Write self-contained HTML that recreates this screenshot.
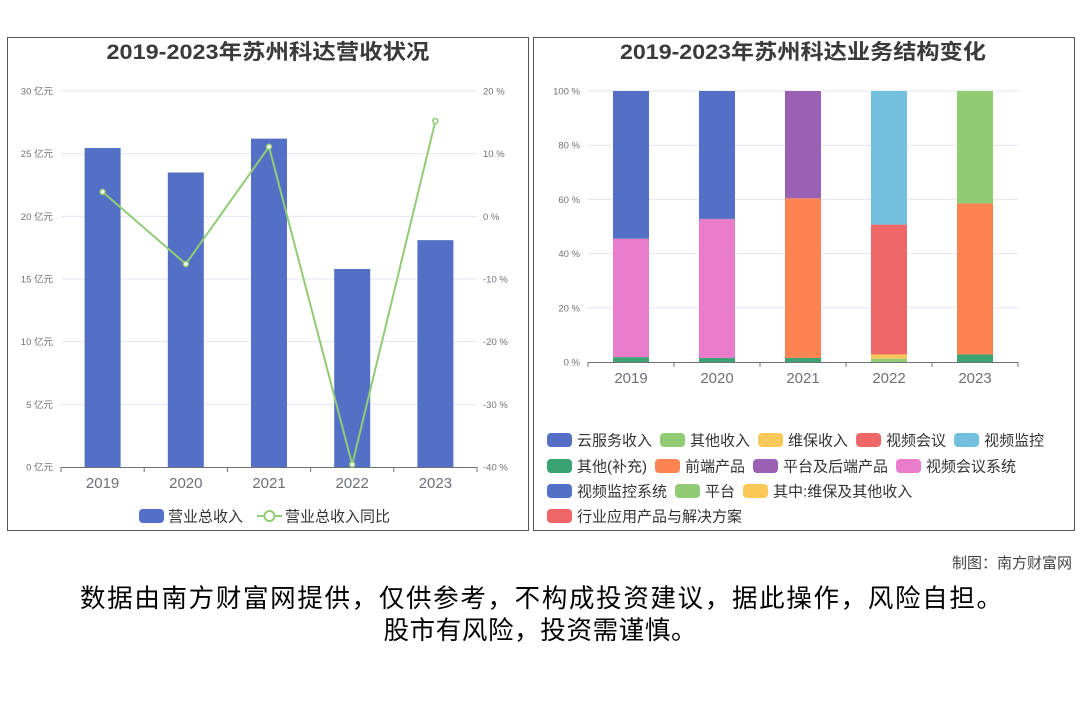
<!DOCTYPE html>
<html><head><meta charset="utf-8">
<style>
body{margin:0;background:#fff;width:1080px;height:720px;overflow:hidden;font-family:"Liberation Sans","Noto Sans CJK SC",sans-serif;}
svg text{font-family:"Liberation Sans","Noto Sans CJK SC",sans-serif;}
</style></head>
<body>
<svg id="chart" width="1080" height="720" viewBox="0 0 1080 720" xmlns="http://www.w3.org/2000/svg">
  <rect x="7.5" y="37.5" width="521" height="493" fill="none" stroke="#555" stroke-width="1"/>
  <rect x="533.5" y="37.5" width="541" height="493" fill="none" stroke="#555" stroke-width="1"/>
  <text x="268" y="59" text-anchor="middle" font-size="21" font-weight="bold" fill="#3a3a3a" textLength="323" lengthAdjust="spacingAndGlyphs">2019-2023年苏州科达营收状况</text>
  <text x="803" y="59" text-anchor="middle" font-size="21" font-weight="bold" fill="#3a3a3a" textLength="366" lengthAdjust="spacingAndGlyphs">2019-2023年苏州科达业务结构变化</text>
  <g id="left"></g>
  <g id="right"></g>
  <text x="1072" y="568" text-anchor="end" font-size="15" fill="#444">制图：南方财富网</text>
  <text x="541" y="607" text-anchor="middle" font-size="25.5" fill="#000" textLength="922" lengthAdjust="spacing">数据由南方财富网提供，仅供参考，不构成投资建议，据此操作，风险自担。</text>
  <text x="540" y="639" text-anchor="middle" font-size="25.5" fill="#000" textLength="313" lengthAdjust="spacing">股市有风险，投资需谨慎。</text>
</svg>
<script>
const years = ['2019','2020','2021','2022','2023'];
const revenue = [25.45, 23.5, 26.2, 15.8, 18.1];
const revenueYoY = [3.9, -7.6, 11.1, -39.6, 15.2];
const leftTicks = [0,5,10,15,20,25,30];
const rightTicks = [-40,-30,-20,-10,0,10,20];
const seriesNames = ['云服务收入','其他收入','维保收入','视频会议','视频监控','其他(补充)','前端产品','平台及后端产品','视频会议系统','视频监控系统','平台','其中:维保及其他收入','行业应用产品与解决方案'];
const shareValues = [
  [0,0,0,0,0],
  [0,0,0,1.2,0],
  [0,0,0,1.6,0],
  [0,0,0,47.9,0],
  [0,0,0,49.3,0],
  [1.8,1.5,1.5,0,2.8],
  [0,0,58.9,0,55.7],
  [0,0,39.6,0,0],
  [43.7,51.3,0,0,0],
  [54.5,47.2,0,0,0],
  [0,0,0,0,41.5],
  [0,0,0,0,0],
  [0,0,0,0,0]
];
const shareTicks = [0,20,40,60,80,100];
const colors = ['#5470c6','#91cc75','#fac858','#ee6666','#73c0de','#3ba272','#fc8452','#9a60b4','#ea7ccc','#5470c6','#91cc75','#fac858','#ee6666'];

const NS='http://www.w3.org/2000/svg';
function mk(parent, tag, attrs){const e=document.createElementNS(NS,tag);for(const k in attrs)e.setAttribute(k,attrs[k]);parent.appendChild(e);return e;}

// ---- Left chart
const L=document.getElementById('left');
const lx0=61, lx1=477, ly0=467, ly1=91;
const yL=v=>ly0-(v/30)*(ly0-ly1);
const yR=v=>ly0-((v+40)/60)*(ly0-ly1);
const band=(lx1-lx0)/years.length;
const xL=i=>lx0+band*(i+0.5);
leftTicks.forEach((t,i)=>{
  const y=yL(t);
  if(t>0){const g=mk(L,'line',{x1:lx0,x2:lx1,y1:y,y2:y,stroke:'#e0e6f1','stroke-width':1});
  
  }
  const tx=mk(L,'text',{x:lx0-8,y:y+3.5,'text-anchor':'end','font-size':9.5,fill:'#6e7079'});
  tx.textContent=t+' 亿元';
  
  
});
rightTicks.forEach(t=>{
  const tx=mk(L,'text',{x:lx1+6,y:yR(t)+3.5,'text-anchor':'start','font-size':9.5,fill:'#6e7079'});
  tx.textContent=t+' %';
  
  
});
revenue.forEach((v,i)=>{
  const r=mk(L,'rect',{x:xL(i)-18,y:yL(v),width:36,height:ly0-yL(v),fill:'#5470c6'});
  
  
});
const ax=mk(L,'line',{x1:lx0,x2:lx1,y1:ly0+0.5,y2:ly0+0.5,stroke:'#6e7079','stroke-width':1});


for(let i=0;i<=years.length;i++){
  const tk=mk(L,'line',{x1:lx0+band*i,x2:lx0+band*i,y1:ly0,y2:ly0+5,stroke:'#6e7079'});
  
  
}
years.forEach((y,i)=>{
  const tx=mk(L,'text',{x:xL(i),y:ly0+21,'text-anchor':'middle','font-size':15,fill:'#6e7079'});
  tx.textContent=y;
  
  
});
const pts=revenueYoY.map((v,i)=>xL(i)+','+yR(v)).join(' ');
const pl=mk(L,'polyline',{points:pts,fill:'none',stroke:'#91cc75','stroke-width':2});


revenueYoY.forEach((v,i)=>{
  const c=mk(L,'circle',{cx:xL(i),cy:yR(v),r:2.5,fill:'#fff',stroke:'#91cc75','stroke-width':1.5});
  
  
});
// left legend
const lg1=mk(L,'rect',{x:139,y:509,width:25,height:14,rx:4,fill:'#5470c6'});


const lt1=mk(L,'text',{x:168,y:521.5,'font-size':15,fill:'#333'});lt1.textContent='营业总收入';


const lg2=mk(L,'line',{x1:257,x2:282,y1:516,y2:516,stroke:'#91cc75','stroke-width':2});


const lg2c=mk(L,'circle',{cx:269.5,cy:516,r:5,fill:'#fff',stroke:'#91cc75','stroke-width':2});


const lt2=mk(L,'text',{x:285,y:521.5,'font-size':15,fill:'#333'});lt2.textContent='营业总收入同比';



// ---- Right chart
const R=document.getElementById('right');
const rx0=588, rx1=1018, ry0=362, ry1=91;
const yS=v=>ry0-(v/100)*(ry0-ry1);
const rband=(rx1-rx0)/years.length;
const xS=i=>rx0+rband*(i+0.5);
shareTicks.forEach(t=>{
  const y=yS(t);
  if(t>0){const g=mk(R,'line',{x1:rx0,x2:rx1,y1:y,y2:y,stroke:'#e0e6f1'});
  
  }
  const tx=mk(R,'text',{x:rx0-8,y:y+3.5,'text-anchor':'end','font-size':9.5,fill:'#6e7079'});
  tx.textContent=t+' %';
  
  
});
years.forEach((yr,i)=>{
  let acc=0;
  seriesNames.forEach((s,k)=>{
    const v=shareValues[k][i];
    if(v<=0)return;
    const r=mk(R,'rect',{x:xS(i)-18,y:yS(acc+v),width:36,height:yS(acc)-yS(acc+v),fill:colors[k]});
    
    
    acc+=v;
  });
});
const rax=mk(R,'line',{x1:rx0,x2:rx1,y1:ry0+0.5,y2:ry0+0.5,stroke:'#6e7079'});


for(let i=0;i<=years.length;i++){
  const tk=mk(R,'line',{x1:rx0+rband*i,x2:rx0+rband*i,y1:ry0,y2:ry0+5,stroke:'#6e7079'});
  
  
}
years.forEach((y,i)=>{
  const tx=mk(R,'text',{x:xS(i),y:ry0+21,'text-anchor':'middle','font-size':15,fill:'#6e7079'});
  tx.textContent=y;
  
  
});
const rows=[[0,1,2,3,4],[5,6,7,8],[9,10,11],[12]];
const rowY=[440,466,491,516];
rows.forEach((row,ri)=>{
  let x=547;
  row.forEach(k=>{
    const ic=mk(R,'rect',{x:x,y:rowY[ri]-7,width:25,height:14,rx:4,fill:colors[k]});
    
    
    const t=mk(R,'text',{x:x+30,y:rowY[ri]+5.5,'font-size':15,fill:'#333'});
    t.textContent=seriesNames[k];
    
    
    x+=30+t.getComputedTextLength()+8;
  });
});
</script>
</body></html>
